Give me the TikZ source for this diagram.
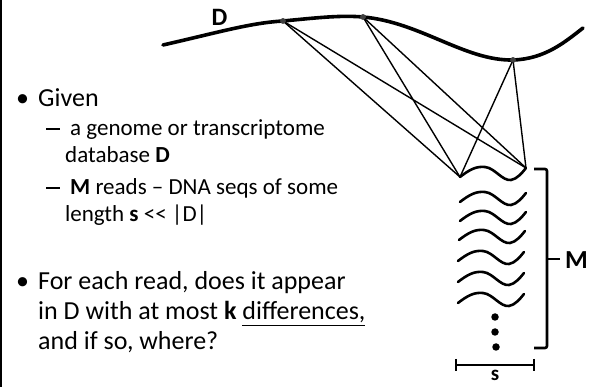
\documentclass[tikz,border=0pt]{standalone}
\usepackage{fontspec}
\setmainfont{Carlito}
\usetikzlibrary{calc}
\begin{document}
\begin{tikzpicture}[x=1pt,y=-1pt,
  thick line/.style={line width=3.6pt, line cap=round},
  thin line/.style={line width=1.4pt},
  readwave/.style={line width=2.6pt, line cap=round},
  brk/.style={line width=2.6pt},
  dotmark/.style={circle, fill=black!75, inner sep=0pt, minimum size=5.5pt},
  bigdot/.style={circle, fill=black, inner sep=0pt, minimum size=7.5pt},
  maintxt/.style={anchor=base west, inner sep=0pt, font=\fontsize{26}{30}\selectfont},
  subtxt/.style={anchor=base west, inner sep=0pt, font=\fontsize{23}{27}\selectfont},
  dashmark/.style={fill=black, inner sep=0pt, minimum width=14pt, minimum height=1.3pt},
  lbl/.style={inner sep=0pt, font=\fontsize{25}{28}\selectfont\bfseries}
]
\useasboundingbox (0,0) rectangle (595,387);
% left border
\draw[line width=2.2pt] (1.2,0) -- (1.2,387);

% genome curve D
\draw[thick line] (163,45) .. controls (220,32) and (250,23) .. (283,21)
  .. controls (315,18) and (340,15) .. (363,17)
  .. controls (420,22) and (465,61) .. (513,60)
  .. controls (545,59) and (565,42) .. (583,28);
\node[dotmark] (d1) at (283,21) {};
\node[dotmark] (d2) at (363,17) {};
\node[dotmark] (d3) at (513,60) {};
\node[lbl] (D) at (219.5,17) {D};

% reads
\newcommand{\myread}[3]{%
  \coordinate (#3l) at (#1,#2);
  \coordinate (#3r) at (#1+66,#2-9);
  \draw[readwave] (#3l) .. controls (#1+9,#2-7) and (#1+16,#2-11) .. (#1+25,#2-10)
    .. controls (#1+35,#2-9) and (#1+42,#2+4) .. (#1+51,#2+3)
    .. controls (#1+57,#2+2) and (#1+62,#2-4) .. (#3r);}
\myread{460}{177}{ra}
\myread{460}{202}{rb}
\myread{460}{221}{rc}
\myread{459}{240}{rd}
\myread{458}{261}{re}
\myread{458}{282}{rf}
\myread{458}{303}{rg}

% alignment lines
\foreach \d in {d1,d2,d3}{
  \draw[thin line] (\d.center) -- (ral);
  \draw[thin line] (\d.center) -- (rar);
}
\node[dotmark] at (d1) {};
\node[dotmark] at (d2) {};
\node[dotmark] at (d3) {};

% ellipsis dots
\node[bigdot] (e1) at (495,317) {};
\node[bigdot] (e2) at (495,332) {};
\node[bigdot] (e3) at (496,347) {};

% bracket M
\coordinate (bt) at (534,169);
\coordinate (bb) at (534,348);
\draw[brk, rounded corners=2pt] (bt) -- (547,169) -- (547,348) -- (bb);
\coordinate (bm) at (547,259);
\coordinate (bmt) at (560,259);
\draw[brk] (bm) -- (bmt);
\node[lbl, font=\fontsize{26}{28}\selectfont\bfseries] (M) at (576.5,260) {M};

% s bar
\coordinate (sl) at (456,365);
\coordinate (sr) at (534,365);
\draw[brk] (sl) -- (sr);
\draw[brk] (456,359) -- (456,371);
\draw[brk] (534,359) -- (534,371);
\node[lbl, anchor=base, font=\fontsize{21}{24}\selectfont\bfseries] (s) at (495,381) {s};

% text
\node[maintxt] (b1) at (16,107) {•};
\node[maintxt] (t1) at (38,107) {Given};
\node[dashmark] (b2) at (52.5,129) {};
\node[subtxt] (t2) at (70,136) {a genome or transcriptome};
\node[subtxt] (t3) at (65,163) {database \textbf{D}};
\node[dashmark] (b3) at (52.5,188) {};
\node[subtxt] (t4) at (70,195) {\textbf{M} reads – DNA seqs of some};
\node[subtxt] (t5) at (65,222) {length \textbf{s} {<}{<} |D|};
\node[maintxt] (b4) at (16,290) {•};
\node[maintxt] (t6) at (38,290) {For each read, does it appear};
\node[maintxt] (t7) at (38,320) {in D with at most \textbf{k} \underline{differences,}};
\node[maintxt] (t8) at (38,350) {and if so, where?};
\end{tikzpicture}
\end{document}
